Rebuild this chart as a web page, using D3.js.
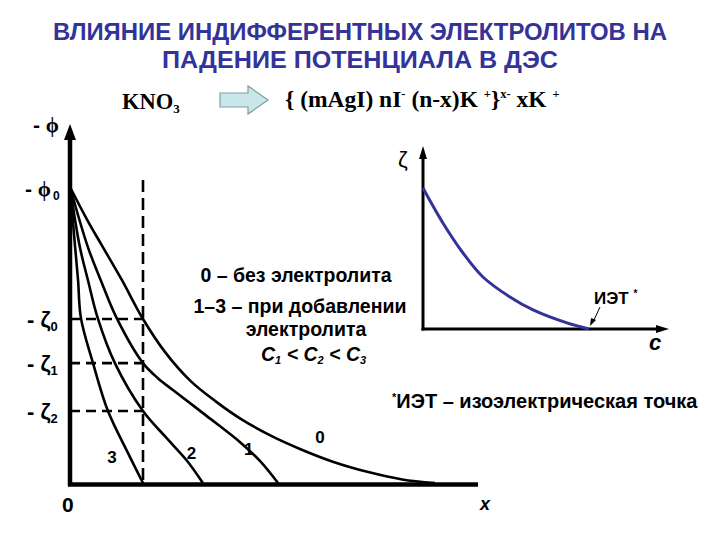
<!DOCTYPE html>
<html><head><meta charset="utf-8">
<script src="https://cdn.jsdelivr.net/npm/d3@7/dist/d3.min.js"></script>
<style>body{margin:0;background:#fff}svg{display:block}</style>
</head><body>
<script>
// ---- data ----
const titleLines = ["ВЛИЯНИЕ ИНДИФФЕРЕНТНЫХ ЭЛЕКТРОЛИТОВ НА", "ПАДЕНИЕ ПОТЕНЦИАЛА В ДЭС"];
const curveNames = ["0", "1", "2", "3"];
// potential (-φ, % of φ0) vs distance x (arbitrary units)
const curve0 = [[0,100],[4.7,88.9],[9.0,79.7],[14.2,68.6],[20,55.4],[26,44.3],[33,34.5],[40,27.5],[47,21.5],[55,16],[63,11.5],[72,7.2],[82,3.6],[91,1.2],[100,0]];
const curve1 = [[0,100],[4.9,79.7],[8.4,68.6],[12.8,55.7],[20,40.5],[24,35.5],[28.2,31.4],[37.5,22.6],[46.6,13.8],[52.1,7.4],[57,0]];
const curve2 = [[0,100],[2.7,79.7],[4.9,68.6],[7.6,55.7],[12.3,40.5],[20,24.3],[26,15.8],[32,7.6],[36.4,0]];
const curve3 = [[0,100],[1.4,79.7],[2.2,68.6],[3.0,55.7],[6.3,40.5],[10.4,24.3],[15.9,10.1],[20,0]];
const phi0 = 100;
const slipX = 20;                      // position of the slipping plane
const zetaValues = [55.4, 40.5, 24.3]; // -ζ0, -ζ1, -ζ2
const zetaLabels = ["0", "1", "2"];
// ζ vs concentration c
const zetaC = [[0,100],[12.0,75.2],[24.1,53.9],[36.1,36.9],[52.4,22.7],[66.3,13.5],[86.7,4.3],[100,0]];

const W = 720, H = 540;
const svg = d3.select("body").append("svg").attr("width", W).attr("height", H);
const sans = "'Liberation Sans', Arial, sans-serif";
const serif = "'Liberation Serif', 'Times New Roman', serif";

// ---- title ----
svg.selectAll("text.title").data(titleLines).join("text")
  .attr("x", 360).attr("y", (d, i) => 40 + i * 28)
  .attr("text-anchor", "middle").attr("font-family", sans).attr("font-weight", "bold")
  .attr("font-size", 24).attr("fill", "#333399")
  .attr("textLength", (d, i) => i === 0 ? 614 : 396).attr("lengthAdjust", "spacingAndGlyphs")
  .text(d => d);

// ---- KNO3 -> formula ----
const kno = svg.append("text").attr("x", 122).attr("y", 109).attr("font-family", serif)
  .attr("font-weight", "bold").attr("font-size", 22.5);
kno.append("tspan").text("KNO");
kno.append("tspan").attr("font-size", 13).attr("dy", 4).text("3");

svg.append("polygon")
  .attr("points", "220,93 248,93 248,86 268,100 248,114 248,107 220,107")
  .attr("fill", "#c9e7ea").attr("stroke", "#7f9fa4").attr("stroke-width", 1.2);

const f = svg.append("text").attr("x", 285).attr("y", 107).attr("font-family", serif)
  .attr("font-weight", "bold").attr("font-size", 23.5);
function sup(t) { return f.append("tspan").attr("font-size", 12.5).attr("dy", -9).text(t); }
function base(t) { return f.append("tspan").attr("font-size", 23.5).attr("dy", 9).text(t); }
f.append("tspan").text("{ (mAgI) nI");
sup("-"); base(" (n-x)K "); sup("+"); base("}"); sup("x-"); base(" xK "); sup("+");

// ---- main chart ----
const x = d3.scaleLinear().domain([0, 100]).range([70, 435]);
const y = d3.scaleLinear().domain([0, 100]).range([483, 187]);

// dashed lines
svg.append("line").attr("x1", x(slipX)).attr("x2", x(slipX)).attr("y1", 180).attr("y2", y(0))
  .attr("stroke", "#000").attr("stroke-width", 2.6).attr("stroke-dasharray", "12,6");
svg.selectAll("line.zeta").data(zetaValues).join("line")
  .attr("x1", x(0)).attr("x2", x(slipX)).attr("y1", d => y(d)).attr("y2", d => y(d))
  .attr("stroke", "#000").attr("stroke-width", 2.6).attr("stroke-dasharray", "10,6");

// curves
const line = d3.line().x(d => x(d[0])).y(d => y(d[1])).curve(d3.curveCatmullRom.alpha(0.5));
svg.selectAll("path.curve").data([curve0, curve1, curve2, curve3]).join("path")
  .attr("d", line).attr("fill", "none").attr("stroke", "#000").attr("stroke-width", 2.6);

// axes
svg.append("line").attr("x1", 70).attr("x2", 70).attr("y1", 486).attr("y2", 136)
  .attr("stroke", "#000").attr("stroke-width", 4.5);
svg.append("polygon").attr("points", "64,140 70,124 76,140").attr("fill", "#000");
svg.append("line").attr("x1", 68).attr("x2", 478).attr("y1", 484.5).attr("y2", 484.5)
  .attr("stroke", "#000").attr("stroke-width", 4.5);

// axis labels
const t1 = svg.append("text").attr("x", 33).attr("y", 132).attr("font-family", sans)
  .attr("font-weight", "bold").attr("font-size", 21);
t1.append("tspan").text("- ");
t1.append("tspan").attr("font-family", serif).text("ϕ");

const t2 = svg.append("text").attr("x", 25).attr("y", 196).attr("font-family", sans)
  .attr("font-weight", "bold").attr("font-size", 21);
t2.append("tspan").text("- ");
t2.append("tspan").attr("font-family", serif).text("ϕ");
t2.append("tspan").attr("font-size", 12).attr("dy", 4).attr("dx", 2).text("0");

svg.selectAll("text.zl").data(zetaValues).join("text")
  .attr("x", 27).attr("y", d => y(d) + 8).attr("font-family", sans)
  .attr("font-weight", "bold").attr("font-size", 22)
  .each(function(d, i) {
    const s = d3.select(this);
    s.append("tspan").text("- ζ");
    s.append("tspan").attr("font-size", 13).attr("dy", 4).text(zetaLabels[i]);
  });

svg.append("text").attr("x", 62).attr("y", 512).attr("font-family", sans)
  .attr("font-weight", "bold").attr("font-size", 21).text("0");
svg.append("text").attr("x", 480).attr("y", 510).attr("font-family", sans)
  .attr("font-weight", "bold").attr("font-style", "italic").attr("font-size", 18).text("x");

// curve labels
const curveLabelPos = [[68.5, 13.5], [49, 9.5], [33.3, 8.2], [11.5, 6.8]];
svg.selectAll("text.cl").data(curveNames).join("text")
  .attr("x", (d, i) => x(curveLabelPos[i][0])).attr("y", (d, i) => y(curveLabelPos[i][1]))
  .attr("text-anchor", "middle").attr("font-family", sans).attr("font-weight", "bold")
  .attr("font-size", 17).text(d => d);

// legend text
const lg = svg.append("g").attr("font-family", sans).attr("font-weight", "bold").attr("font-size", 19.5);
lg.append("text").attr("x", 296).attr("y", 282).attr("text-anchor", "middle").text("0 – без электролита");
lg.append("text").attr("x", 300).attr("y", 313).attr("text-anchor", "middle").text("1–3 – при добавлении");
lg.append("text").attr("x", 306).attr("y", 336).attr("text-anchor", "middle").text("электролита");
const cc = lg.append("text").attr("x", 261).attr("y", 361).attr("font-style", "italic");
[["C","1"],[" < C","2"],[" < C","3"]].forEach((p, i) => {
  cc.append("tspan").attr("font-size", 19.5).attr("dy", i === 0 ? 0 : -3).text(p[0]);
  cc.append("tspan").attr("font-size", 11).attr("dy", 3).text(p[1]);
});

// ---- inset chart ζ(c) ----
const cx = d3.scaleLinear().domain([0, 100]).range([423, 589]);
const cy = d3.scaleLinear().domain([0, 100]).range([329, 188]);
svg.append("line").attr("x1", 423).attr("x2", 423).attr("y1", 330.5).attr("y2", 156)
  .attr("stroke", "#000").attr("stroke-width", 3);
svg.append("polygon").attr("points", "419,159 423,146 427,159").attr("fill", "#000");
svg.append("line").attr("x1", 421.5).attr("x2", 658).attr("y1", 329).attr("y2", 329)
  .attr("stroke", "#000").attr("stroke-width", 3);
svg.append("polygon").attr("points", "656,325 669,329 656,333").attr("fill", "#000");
svg.append("path").datum(zetaC)
  .attr("d", d3.line().x(d => cx(d[0])).y(d => cy(d[1])).curve(d3.curveCatmullRom.alpha(0.5)))
  .attr("fill", "none").attr("stroke", "#333399").attr("stroke-width", 3);

svg.append("text").attr("x", 398).attr("y", 167).attr("font-family", sans)
  .attr("font-size", 22).text("ζ");
svg.append("text").attr("x", 649).attr("y", 350).attr("font-family", sans)
  .attr("font-weight", "bold").attr("font-style", "italic").attr("font-size", 22).text("c");
const iet = svg.append("text").attr("x", 594).attr("y", 304).attr("font-family", sans)
  .attr("font-weight", "bold").attr("font-size", 17);
iet.append("tspan").text("ИЭТ ");
iet.append("tspan").attr("font-size", 10).attr("dy", -7).text("*");
svg.append("line").attr("x1", 600).attr("y1", 307).attr("x2", 593).attr("y2", 322)
  .attr("stroke", "#000").attr("stroke-width", 1);
svg.append("polygon").attr("points", "590,326 591,318 596,320").attr("fill", "#000");

const fn = svg.append("text").attr("x", 392).attr("y", 408).attr("font-family", sans)
  .attr("font-weight", "bold").attr("font-size", 20);
fn.append("tspan").attr("font-size", 11).attr("dy", -7).text("*");
fn.append("tspan").attr("dy", 7).text("ИЭТ – изоэлектрическая точка");
</script>
</body></html>
